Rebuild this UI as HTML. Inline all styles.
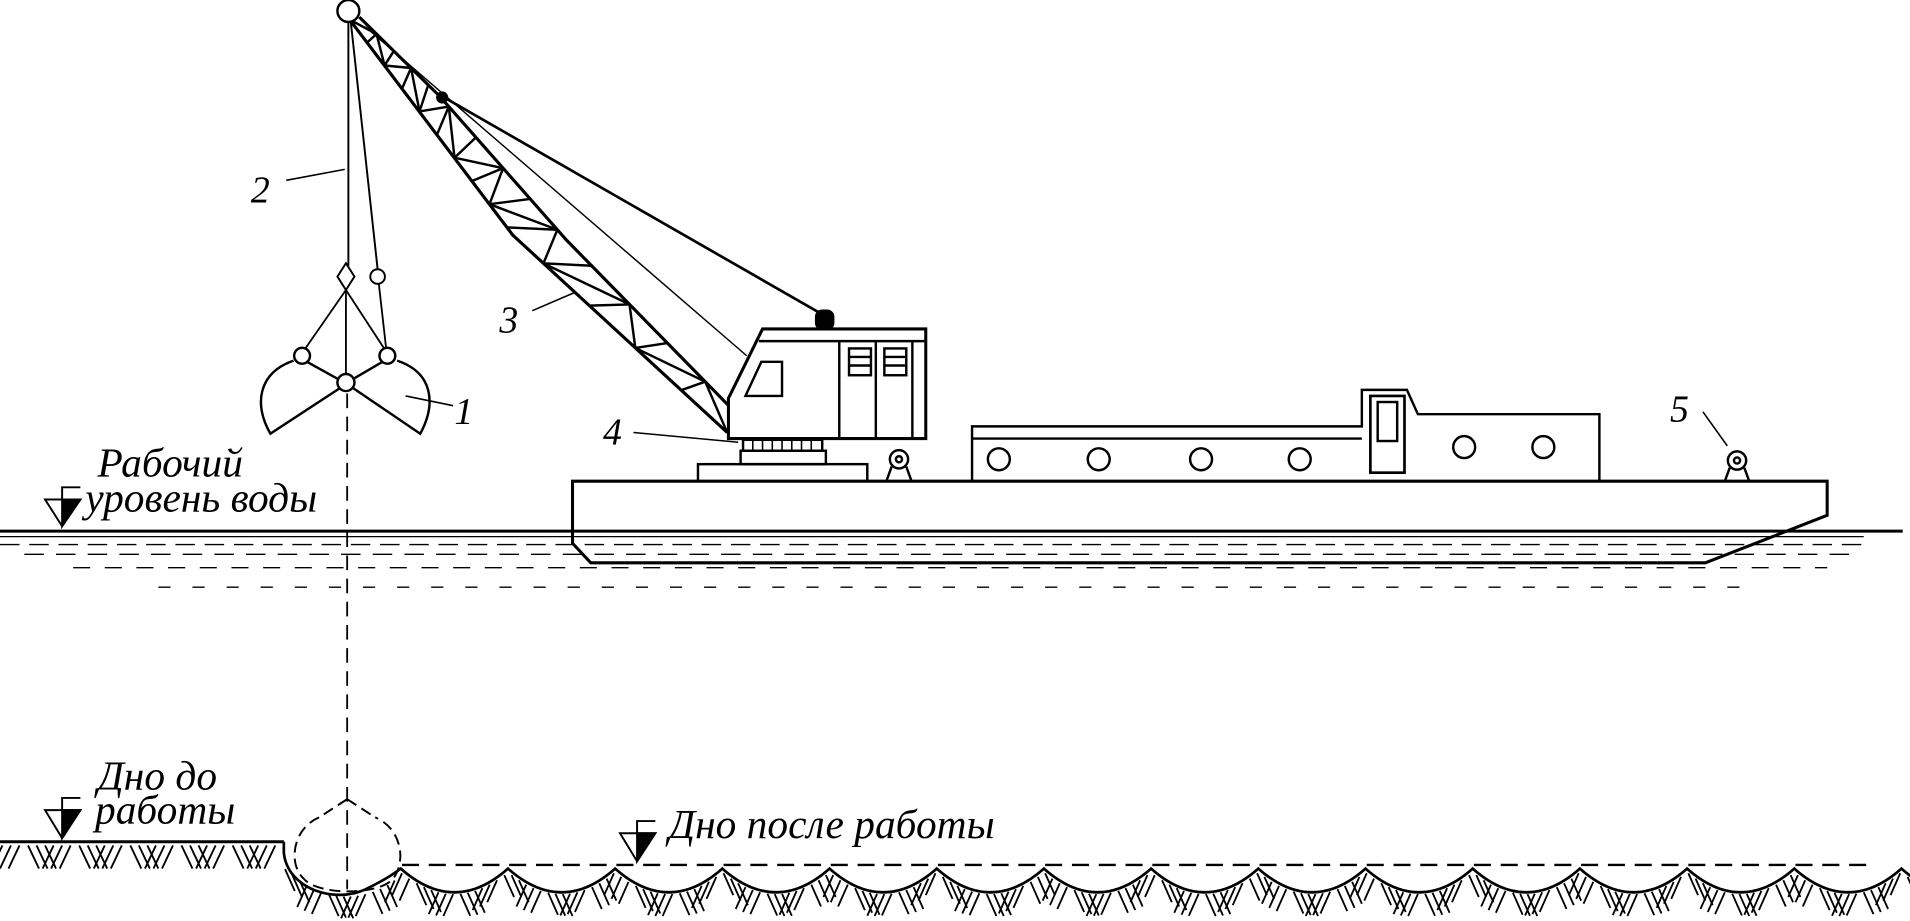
<!DOCTYPE html>
<html><head><meta charset="utf-8"><style>
html,body{margin:0;padding:0;background:#fff;}
svg{display:block;}
text{font-family:"Liberation Serif",serif;font-style:italic;fill:#000;}
</style></head><body>
<svg id="s" width="1910" height="921" viewBox="0 0 1568 756" xmlns="http://www.w3.org/2000/svg" fill="none" stroke="#000" stroke-width="2">
<!-- boom chords -->
<polyline points="287,16 421,193 597,355" stroke-width="2.6"/>
<polyline points="295,14 361,79 465,197 610,345" stroke-width="2.6"/>
<g id="truss" stroke-width="2"></g>
<!-- cables -->
<line x1="286" y1="18" x2="286" y2="218" stroke-width="1.6"/>
<line x1="288" y1="18" x2="310" y2="221" stroke-width="1.6"/>
<line x1="300" y1="22" x2="613" y2="292" stroke-width="1.2"/>
<line x1="363" y1="79" x2="675" y2="258" stroke-width="2.2"/>
<circle cx="363" cy="80" r="4" fill="#000"/>
<circle cx="286" cy="9" r="9" fill="#fff" stroke-width="2"/>
<!-- grab -->
<path d="M284,216 L291,227 L284,238 L277,227 Z" fill="#fff" stroke-width="1.6"/>
<circle cx="310" cy="227" r="6" fill="#fff" stroke-width="1.6"/>
<line x1="284" y1="238" x2="250" y2="287" stroke-width="1.5"/>
<line x1="284" y1="238" x2="316" y2="287" stroke-width="1.5"/>
<line x1="311" y1="233" x2="317" y2="286" stroke-width="1.5"/>
<line x1="284" y1="238" x2="284" y2="308" stroke-width="1.5"/>
<path d="M241,296 C212,306 208,332 222,356 L280,318" stroke-width="2"/>
<path d="M326,296 C356,306 358,332 345,356 L289,318" stroke-width="2"/>
<line x1="252" y1="297" x2="279" y2="312"/>
<line x1="314" y1="297" x2="290" y2="311"/>
<circle cx="248" cy="292" r="6.5" fill="#fff"/>
<circle cx="318" cy="292" r="6.5" fill="#fff"/>
<circle cx="284" cy="314" r="7" fill="#fff"/>
<line x1="285" y1="323" x2="285" y2="730" stroke-width="1.5" stroke-dasharray="12,7"/>
<!-- labels -->
<text x="373" y="348" font-size="31" stroke="none">1</text><line x1="333" y1="325" x2="372" y2="333" stroke-width="1.3"/>
<text x="206" y="166" font-size="31" stroke="none">2</text><line x1="235" y1="148" x2="283" y2="139" stroke-width="1.3"/>
<text x="410" y="273" font-size="31" stroke="none">3</text><line x1="437" y1="255" x2="472" y2="240" stroke-width="1.3"/>
<text x="495" y="365" font-size="31" stroke="none">4</text><line x1="520" y1="355" x2="606" y2="363" stroke-width="1.3"/>
<text x="1371" y="346" font-size="31" stroke="none">5</text><line x1="1398" y1="338" x2="1418" y2="366" stroke-width="1.3"/>
<!-- cab -->
<path d="M598,360 L598,327 L626,270 L760,270 L760,360 Z" fill="#fff" stroke-width="2.5"/>
<line x1="623" y1="280" x2="760" y2="280"/>
<path d="M612,325 L625,297 L642,297 L642,325 Z" stroke-width="2"/>
<line x1="689" y1="280" x2="689" y2="360"/><line x1="719" y1="280" x2="719" y2="360"/><line x1="749" y1="280" x2="749" y2="360"/>
<rect x="697" y="286" width="18" height="22"/><line x1="697" y1="293" x2="715" y2="293"/><line x1="697" y1="300" x2="715" y2="300"/>
<rect x="726" y="286" width="18" height="22"/><line x1="726" y1="293" x2="744" y2="293"/><line x1="726" y1="300" x2="744" y2="300"/>
<rect x="670" y="255" width="14" height="15" rx="5" fill="#000"/>
<rect x="610" y="361" width="65" height="9"/>
<g stroke-width="1.3"><line x1="618" y1="361" x2="618" y2="370"/><line x1="626" y1="361" x2="626" y2="370"/><line x1="634" y1="361" x2="634" y2="370"/><line x1="642" y1="361" x2="642" y2="370"/><line x1="650" y1="361" x2="650" y2="370"/><line x1="658" y1="361" x2="658" y2="370"/><line x1="666" y1="361" x2="666" y2="370"/></g>
<rect x="608" y="370" width="70" height="11"/>
<rect x="573" y="381" width="139" height="14"/>
<!-- winches -->
<circle cx="738" cy="377" r="7.5"/><circle cx="738" cy="377" r="2.5"/><path d="M732,383 L728,394 M744,383 L748,394"/>
<circle cx="1426" cy="378" r="7.5"/><circle cx="1426" cy="378" r="2.5"/><path d="M1420,384 L1416,395 M1432,384 L1436,395"/>
<!-- superstructure -->
<path d="M798,395 L798,350 L1118,350 L1118,320 L1155,320 L1164,340 L1313,340 L1313,395" stroke-width="2"/>
<line x1="798" y1="360" x2="1118" y2="360"/>
<rect x="1125" y="325" width="28" height="63" stroke-width="2.2"/>
<rect x="1131" y="330" width="16" height="32"/>
<g stroke-width="2"><circle cx="820" cy="377" r="9"/><circle cx="902" cy="377" r="9"/><circle cx="986" cy="377" r="9"/><circle cx="1067" cy="377" r="9"/><circle cx="1202" cy="367" r="9"/><circle cx="1267" cy="367" r="9"/></g>
<!-- hull -->
<path d="M470,395 L1500,395 L1500,423 L1400,462 L485,462 L470,446 Z" fill="none" stroke-width="2.5"/>
<!-- water -->
<line x1="0" y1="436" x2="1562" y2="436" stroke-width="2.5"/>
<line x1="0" y1="440.5" x2="1530" y2="440.5" stroke-width="1"/>
<g stroke-width="1.2">
<line x1="0" y1="447" x2="1530" y2="447" stroke-dasharray="16,8"/>
<line x1="20" y1="455" x2="1520" y2="455" stroke-dasharray="16,10"/>
<line x1="60" y1="466" x2="1500" y2="466" stroke-dasharray="14,12"/>
<line x1="130" y1="482" x2="1440" y2="482" stroke-dasharray="10,18"/>
</g>
<!-- markers -->
<g stroke-width="1.6"><path d="M37,410 L66,410 L51,432 Z"/><path d="M51,410 L66,410 L51,432 Z" fill="#000"/><path d="M51,410 L51,400 L66,400"/></g>
<g stroke-width="1.6"><path d="M37,665 L66,665 L51,688 Z"/><path d="M51,665 L66,665 L51,688 Z" fill="#000"/><path d="M51,665 L51,655 L66,655"/></g>
<g stroke-width="1.6"><path d="M509,684 L538,684 L523,707 Z"/><path d="M523,684 L538,684 L523,707 Z" fill="#000"/><path d="M523,684 L523,674 L538,674"/></g>
<text x="80" y="391" font-size="34" stroke="none">Рабочий</text>
<text x="70" y="420" font-size="34" stroke="none">уровень воды</text>
<text x="80" y="648" font-size="34" stroke="none">Дно до</text>
<text x="78" y="676" font-size="34" stroke="none">работы</text>
<text x="549" y="688" font-size="34" stroke="none">Дно после работы</text>
<!-- bottom -->
<line x1="0" y1="691" x2="233" y2="691" stroke-width="2.5"/>
<path id="prof" d="" stroke-width="2.2"/>
<line x1="330" y1="710" x2="1540" y2="710" stroke-width="2" stroke-dasharray="14,8"/>
<path d="M285,656 L262,671 M285,656 L308,671 M262,671 C240,680 236,710 250,722 C262,735 310,735 322,722 C334,708 330,680 308,671" stroke-width="1.6" stroke-dasharray="9,5"/>
<g id="hatch" stroke-width="1.5"></g>
</svg>
<script>
var NS="http://www.w3.org/2000/svg";
function L(g,a,b,c,d,w){var l=document.createElementNS(NS,"line");l.setAttribute("x1",a);l.setAttribute("y1",b);l.setAttribute("x2",c);l.setAttribute("y2",d);if(w)l.setAttribute("stroke-width",w);g.appendChild(l);}
function interp(pts,t){var seg=pts.length-1,f=t*seg,i=Math.min(Math.floor(f),seg-1),u=f-i;return [pts[i][0]+(pts[i+1][0]-pts[i][0])*u,pts[i][1]+(pts[i+1][1]-pts[i][1])*u];}
var lo=[[287,16],[354,104],[421,193],[597,355]],up=[[295,14],[361,79],[465,197],[610,345]];
var tr=document.getElementById("truss");var N=14;
for(var k=1;k<N;k++){var t=k/N;var a=interp(lo,t),b=interp(up,t);L(tr,a[0],a[1],b[0],b[1]);}
for(var k=0;k<N;k++){var t=k/N,t2=(k+1)/N;var a=interp(lo,t),b=interp(up,t2);var c=interp(up,t),d=interp(lo,t2);
 if(k%2==0)L(tr,a[0],a[1],b[0],b[1]);else L(tr,c[0],c[1],d[0],d[1]);}
// profile
var p="M233,691 L233,700 C236,730 275,742 300,730 C315,723 325,716 329,713";
var x=329;while(x<1568){var nx=x+88;p+=" Q"+(x+44)+",752 "+nx+",713";x=nx;}
document.getElementById("prof").setAttribute("d",p);
var h=document.getElementById("hatch");
for(var i=2;i<232;i+=7){var s=(Math.floor(i/21)%2)?1:-1;L(h,i,694,i+s*9,713);}
function prof(x){if(x<329){var dx=(x-285)/48;return 734-20*dx*dx;}var r=((x-329)%88)/88;return 713+4*18*r*(1-r)+1;}
for(var i=234;i<1568;i+=6){var y=prof(i);var s=(Math.floor(i/18)%2)?1:-1;L(h,i,y+2,i+s*8,Math.min(y+20,755));}
</script>
</body></html>
